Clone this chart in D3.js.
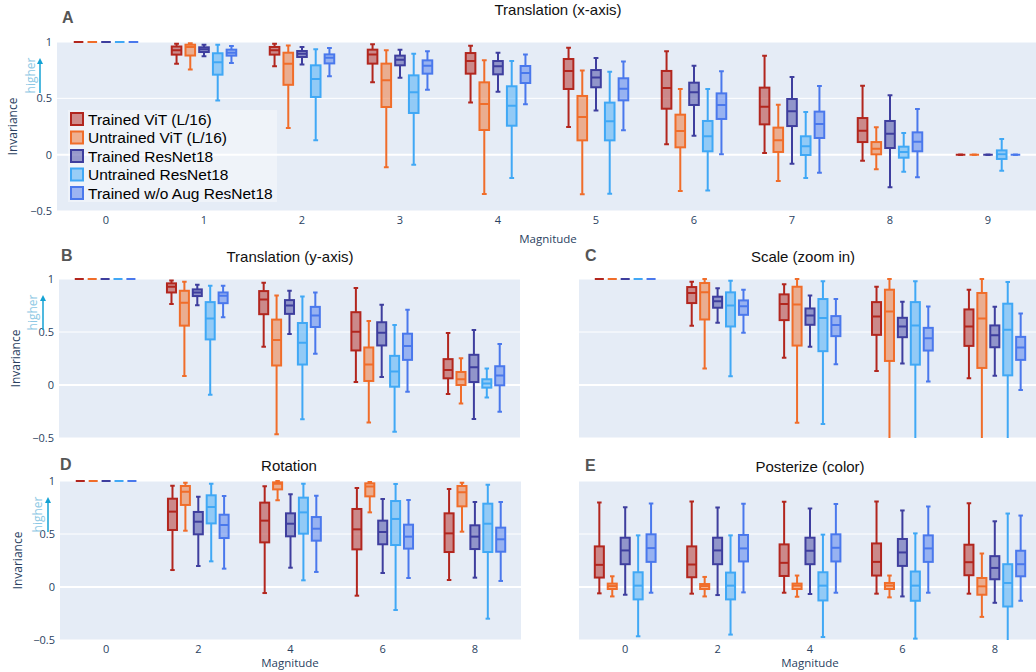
<!DOCTYPE html>
<html>
<head>
<meta charset="utf-8">
<script src="https://cdn.jsdelivr.net/npm/d3@7"></script>
<style>
  body { margin: 0; background: #fff; }
  svg { display: block; }
</style>
</head>
<body>
<div id="chart"></div>
<script>
const seriesNames = ['Trained ViT (L/16)', 'Untrained ViT (L/16)', 'Trained ResNet18', 'Untrained ResNet18', 'Trained w/o Aug ResNet18'];
const seriesColors = ['#B2261E', '#F06D2A', '#3E3E9E', '#40A8F5', '#4A78EC'];

const magsX = [0, 1, 2, 3, 4, 5, 6, 7, 8, 9];
const magsEven = [0, 2, 4, 6, 8];
const yTicks = [-0.5, 0, 0.5, 1];

// each box: [low whisker, q1, median, q3, high whisker]; one row per series
const one = [1, 1, 1, 1, 1];
const zero = [0, 0, 0, 0, 0];

const translationX = [
  [one, [0.808, 0.888, 0.926, 0.96, 0.985], [0.784, 0.888, 0.926, 0.956, 0.985], [0.642, 0.808, 0.888, 0.932, 0.979], [0.464, 0.719, 0.831, 0.902, 0.967], [0.246, 0.583, 0.743, 0.849, 0.95], [0.092, 0.408, 0.592, 0.743, 0.917], [0.015, 0.269, 0.426, 0.595, 0.879], [-0.053, 0.112, 0.213, 0.325, 0.612], zero],
  [one, [0.757, 0.88, 0.955, 0.976, 0.99], [0.237, 0.62, 0.808, 0.905, 0.97], [-0.112, 0.423, 0.66, 0.808, 0.926], [-0.349, 0.219, 0.45, 0.642, 0.837], [-0.352, 0.127, 0.334, 0.521, 0.746], [-0.322, 0.065, 0.21, 0.355, 0.583], [-0.234, 0.024, 0.127, 0.24, 0.444], [-0.13, 0.003, 0.053, 0.112, 0.243], zero],
  [one, [0.873, 0.911, 0.935, 0.953, 0.976], [0.8, 0.867, 0.896, 0.92, 0.956], [0.683, 0.793, 0.843, 0.879, 0.932], [0.559, 0.713, 0.784, 0.831, 0.905], [0.393, 0.598, 0.686, 0.751, 0.858], [0.169, 0.441, 0.553, 0.639, 0.79], [-0.08, 0.254, 0.385, 0.494, 0.689], [-0.29, 0.059, 0.186, 0.299, 0.527], zero],
  [one, [0.48, 0.71, 0.82, 0.9, 0.976], [0.127, 0.512, 0.672, 0.793, 0.935], [-0.089, 0.37, 0.553, 0.704, 0.896], [-0.207, 0.257, 0.435, 0.607, 0.831], [-0.346, 0.127, 0.296, 0.462, 0.737], [-0.317, 0.03, 0.163, 0.299, 0.583], [-0.207, -0.003, 0.074, 0.163, 0.379], [-0.151, -0.027, 0.024, 0.071, 0.192], [-0.142, -0.038, 0.003, 0.038, 0.139]],
  [one, [0.814, 0.879, 0.905, 0.932, 0.964], [0.695, 0.81, 0.861, 0.89, 0.947], [0.577, 0.719, 0.79, 0.837, 0.917], [0.447, 0.636, 0.725, 0.787, 0.89], [0.216, 0.482, 0.586, 0.678, 0.828], [0.003, 0.317, 0.441, 0.544, 0.74], [-0.16, 0.148, 0.272, 0.382, 0.609], [-0.201, 0.03, 0.115, 0.198, 0.405], zero]
];

const translationY = [
  [one, [0.763, 0.873, 0.927, 0.959, 0.987], [0.361, 0.668, 0.807, 0.886, 0.965], [0.028, 0.326, 0.503, 0.687, 0.915], [-0.085, 0.063, 0.142, 0.244, 0.491]],
  [one, [0.085, 0.56, 0.775, 0.889, 0.975], [-0.465, 0.184, 0.424, 0.617, 0.845], [-0.354, 0.038, 0.193, 0.354, 0.604], [-0.174, 0.0, 0.054, 0.123, 0.253]],
  [one, [0.753, 0.839, 0.873, 0.902, 0.946], [0.481, 0.671, 0.75, 0.801, 0.889], [0.076, 0.373, 0.494, 0.592, 0.756], [-0.32, 0.028, 0.168, 0.285, 0.519]],
  [one, [-0.092, 0.43, 0.627, 0.782, 0.937], [-0.323, 0.193, 0.399, 0.585, 0.835], [-0.44, -0.016, 0.127, 0.275, 0.566], [-0.117, -0.025, 0.013, 0.054, 0.155]],
  [one, [0.639, 0.772, 0.842, 0.873, 0.937], [0.294, 0.547, 0.655, 0.737, 0.873], [-0.063, 0.237, 0.367, 0.484, 0.709], [-0.253, -0.003, 0.089, 0.177, 0.386]]
];

const scaleZoom = [
  [one, [0.558, 0.773, 0.868, 0.924, 0.975], [0.256, 0.612, 0.763, 0.855, 0.95], [0.132, 0.473, 0.647, 0.782, 0.927], [0.063, 0.369, 0.552, 0.713, 0.899]],
  [one, [0.155, 0.618, 0.874, 0.962, 1.0], [-0.356, 0.372, 0.76, 0.927, 1.0], [-0.6, 0.227, 0.694, 0.899, 1.0], [-0.6, 0.161, 0.628, 0.868, 1.0]],
  [one, [0.587, 0.729, 0.789, 0.833, 0.912], [0.36, 0.568, 0.656, 0.722, 0.845], [0.202, 0.451, 0.552, 0.634, 0.785], [0.088, 0.356, 0.47, 0.562, 0.738]],
  [one, [0.082, 0.552, 0.751, 0.874, 0.984], [-0.369, 0.319, 0.631, 0.811, 0.978], [-0.6, 0.192, 0.562, 0.782, 0.978], [-0.6, 0.091, 0.521, 0.767, 0.972]],
  [one, [0.492, 0.662, 0.744, 0.798, 0.899], [0.196, 0.461, 0.565, 0.65, 0.811], [0.032, 0.325, 0.442, 0.539, 0.741], [-0.047, 0.237, 0.353, 0.454, 0.675]]
];

const rotation = [
  [one, [0.16, 0.538, 0.711, 0.833, 0.956], [-0.057, 0.421, 0.626, 0.796, 0.95], [-0.082, 0.355, 0.544, 0.736, 0.934], [0.066, 0.33, 0.506, 0.695, 0.925]],
  [one, [0.531, 0.774, 0.899, 0.953, 0.984], [0.818, 0.921, 0.975, 0.987, 1.0], [0.704, 0.855, 0.947, 0.978, 0.99], [0.522, 0.761, 0.893, 0.953, 0.984]],
  [one, [0.198, 0.497, 0.616, 0.708, 0.852], [0.182, 0.478, 0.597, 0.695, 0.874], [0.132, 0.403, 0.519, 0.626, 0.83], [0.088, 0.358, 0.475, 0.582, 0.802]],
  [one, [0.242, 0.6, 0.755, 0.865, 0.975], [0.063, 0.503, 0.704, 0.843, 0.975], [-0.217, 0.396, 0.642, 0.811, 0.972], [-0.299, 0.33, 0.597, 0.786, 0.965]],
  [one, [0.173, 0.462, 0.585, 0.682, 0.858], [0.142, 0.437, 0.55, 0.66, 0.862], [0.085, 0.362, 0.475, 0.588, 0.821], [0.057, 0.333, 0.45, 0.56, 0.802]]
];

const posterize = [
  [[-0.06, 0.089, 0.209, 0.383, 0.797], [-0.063, 0.092, 0.212, 0.383, 0.807], [-0.054, 0.104, 0.228, 0.402, 0.804], [-0.063, 0.108, 0.237, 0.411, 0.807], [-0.063, 0.111, 0.234, 0.399, 0.791]],
  [[-0.089, -0.019, 0.009, 0.032, 0.101], [-0.089, -0.019, 0.009, 0.028, 0.095], [-0.092, -0.019, 0.013, 0.032, 0.108], [-0.098, -0.019, 0.013, 0.038, 0.108], [-0.282, -0.073, 0.006, 0.085, 0.316]],
  [[-0.073, 0.215, 0.345, 0.465, 0.753], [-0.076, 0.215, 0.345, 0.465, 0.75], [-0.066, 0.215, 0.342, 0.465, 0.741], [-0.089, 0.199, 0.326, 0.453, 0.722], [-0.149, 0.073, 0.18, 0.291, 0.62]],
  [[-0.465, -0.117, 0.013, 0.139, 0.487], [-0.449, -0.117, 0.013, 0.136, 0.487], [-0.472, -0.127, 0.013, 0.139, 0.494], [-0.487, -0.13, 0.013, 0.146, 0.506], [-0.55, -0.184, 0.038, 0.215, 0.693]],
  [[-0.054, 0.237, 0.367, 0.497, 0.788], [-0.051, 0.241, 0.364, 0.491, 0.785], [-0.054, 0.241, 0.37, 0.497, 0.782], [-0.054, 0.237, 0.364, 0.487, 0.759], [-0.13, 0.101, 0.215, 0.342, 0.674]]
];

const width = 1036, height = 672;
const tickColor = '#2a3f5f';
const tickFont = '"Open Sans", "DejaVu Sans", sans-serif';
const titleFont = '"Liberation Sans", Arial, sans-serif';

const panels = [
  {id: 'A', title: 'Translation (x-axis)', titleX: 558, titleY: 15, letterX: 62, letterY: 23,
   data: translationX, mags: magsX, x0: 57, x1: 1037, y0: 42, y1: 211,
   yLabels: true, xLabels: true, xTitleX: 548, xTitleY: 243, yTitleX: 13, higher: {tx: 31, ax: 40}, legend: true},
  {id: 'B', title: 'Translation (y-axis)', titleX: 290, titleY: 262, letterX: 61, letterY: 261,
   data: translationY, mags: magsEven, x0: 59, x1: 520, y0: 279, y1: 438,
   yLabels: true, xLabels: false, yTitleX: 16, higher: {tx: 33, ax: 43}},
  {id: 'C', title: 'Scale (zoom in)', titleX: 803, titleY: 262, letterX: 585, letterY: 261,
   data: scaleZoom, mags: magsEven, x0: 579, x1: 1041, y0: 279, y1: 438,
   yLabels: false, xLabels: false},
  {id: 'D', title: 'Rotation', titleX: 289, titleY: 471, letterX: 60, letterY: 470,
   data: rotation, mags: magsEven, x0: 60, x1: 521, y0: 481, y1: 640,
   yLabels: true, xLabels: true, xTitleX: 290, xTitleY: 667, yTitleX: 18, higher: {tx: 38, ax: 48}},
  {id: 'E', title: 'Posterize (color)', titleX: 810, titleY: 472, letterX: 585, letterY: 471,
   data: posterize, mags: magsEven, x0: 579, x1: 1041, y0: 481, y1: 640,
   yLabels: false, xLabels: true, xTitleX: 810, xTitleY: 667}
];

const svg = d3.select('#chart').append('svg')
  .attr('width', width)
  .attr('height', height);

const defs = svg.append('defs');
defs.append('marker')
  .attr('id', 'arrowhead')
  .attr('viewBox', '0 0 10 10')
  .attr('refX', 5).attr('refY', 5)
  .attr('markerWidth', 4).attr('markerHeight', 4)
  .attr('orient', 'auto-start-reverse')
  .append('path')
  .attr('d', 'M0,0L10,5L0,10Z')
  .attr('fill', '#14a2d4');

panels.forEach(p => {
  const x = d3.scaleBand().domain(p.mags).range([p.x0, p.x1]);
  const y = d3.scaleLinear().domain([-0.5, 1]).range([p.y1, p.y0]);
  const bw = x.bandwidth();
  const inner = d3.scaleBand().domain(d3.range(seriesNames.length))
    .range([bw * 0.15, bw * 0.85]).paddingInner(0.3).paddingOuter(0.15);
  const boxW = inner.bandwidth();

  const clipW = Math.min(p.x1, width) - p.x0;
  defs.append('clipPath').attr('id', 'clip' + p.id)
    .append('rect').attr('x', p.x0).attr('y', p.y0 - 1.5).attr('width', clipW).attr('height', p.y1 - p.y0 + 1.5);

  svg.append('rect')
    .attr('x', p.x0).attr('y', p.y0)
    .attr('width', clipW).attr('height', p.y1 - p.y0)
    .attr('fill', '#E5ECF6');

  // grid
  svg.append('g').selectAll('line')
    .data(yTicks)
    .enter().append('line')
    .attr('x1', p.x0).attr('x2', p.x0 + clipW)
    .attr('y1', d => y(d)).attr('y2', d => y(d))
    .attr('stroke', '#fff')
    .attr('stroke-width', d => d === 0 ? 2 : 1);

  if (p.yLabels) {
    const ya = svg.append('g')
      .attr('transform', `translate(${p.x0 - 2},0)`)
      .call(d3.axisLeft(y).tickValues(yTicks).tickSize(0)
        .tickFormat(d => String(d).replace('-', '\u2212')));
    ya.select('.domain').remove();
    ya.selectAll('text').attr('fill', tickColor).style('font-family', tickFont).style('font-size', '11px');

    svg.append('text')
      .attr('transform', `translate(${p.yTitleX},${(p.y0 + p.y1) / 2}) rotate(-90)`)
      .attr('text-anchor', 'middle')
      .attr('dy', '0.35em')
      .attr('fill', tickColor)
      .style('font-family', tickFont)
      .style('font-size', '12px')
      .text('Invariance');

    const yh0 = p.y0 + 16, yh1 = p.y0 + 51;
    svg.append('line')
      .attr('x1', p.higher.ax).attr('x2', p.higher.ax)
      .attr('y1', yh1).attr('y2', yh0 + 3)
      .attr('stroke', '#14a2d4').attr('stroke-width', 1.5)
      .attr('marker-end', 'url(#arrowhead)');
    svg.append('text')
      .attr('transform', `translate(${p.higher.tx},${(yh0 + yh1) / 2}) rotate(-90)`)
      .attr('text-anchor', 'middle')
      .attr('dy', '0.35em')
      .attr('fill', '#8cc8e4')
      .style('font-family', tickFont)
      .style('font-size', '12px')
      .text('higher');
  }

  if (p.xLabels) {
    const xa = svg.append('g')
      .attr('transform', `translate(0,${p.y1 + 2})`)
      .call(d3.axisBottom(x).tickSize(0));
    xa.select('.domain').remove();
    xa.selectAll('text').attr('fill', tickColor).style('font-family', tickFont).style('font-size', '11px');

    svg.append('text')
      .attr('x', p.xTitleX)
      .attr('y', p.xTitleY)
      .attr('text-anchor', 'middle')
      .attr('fill', tickColor)
      .style('font-family', tickFont)
      .style('font-size', '11.5px')
      .text('Magnitude');
  }

  // boxes
  const plot = svg.append('g').attr('clip-path', `url(#clip${p.id})`);
  p.data.forEach((rows, si) => {
    const color = seriesColors[si];
    const g = plot.append('g');
    const boxes = g.selectAll('g.box')
      .data(rows.map((v, i) => ({mag: p.mags[i], v})))
      .enter().append('g')
      .attr('class', 'box')
      .attr('transform', d => `translate(${x(d.mag) + inner(si) + boxW / 2},0)`);

    boxes.append('line')
      .attr('y1', d => y(d.v[0])).attr('y2', d => y(d.v[1]))
      .attr('stroke', color).attr('stroke-width', 2);
    boxes.append('line')
      .attr('y1', d => y(d.v[3])).attr('y2', d => y(d.v[4]))
      .attr('stroke', color).attr('stroke-width', 2);
    [0, 4].forEach(k => {
      boxes.append('line')
        .attr('x1', -boxW / 4).attr('x2', boxW / 4)
        .attr('y1', d => y(d.v[k])).attr('y2', d => y(d.v[k]))
        .attr('stroke', color).attr('stroke-width', 2);
    });
    boxes.append('rect')
      .attr('x', -boxW / 2)
      .attr('width', boxW)
      .attr('y', d => y(d.v[3]))
      .attr('height', d => y(d.v[1]) - y(d.v[3]))
      .attr('fill', color).attr('fill-opacity', 0.5)
      .attr('stroke', color).attr('stroke-width', 2);
    boxes.append('line')
      .attr('x1', -boxW / 2).attr('x2', boxW / 2)
      .attr('y1', d => y(d.v[2])).attr('y2', d => y(d.v[2]))
      .attr('stroke', color).attr('stroke-width', 2);
  });

  svg.append('text')
    .attr('x', p.titleX).attr('y', p.titleY)
    .attr('text-anchor', 'middle')
    .attr('fill', '#111')
    .style('font-family', titleFont)
    .style('font-size', '15px')
    .text(p.title);

  svg.append('text')
    .attr('x', p.letterX).attr('y', p.letterY)
    .attr('fill', '#555')
    .style('font-family', titleFont)
    .style('font-size', '16px')
    .style('font-weight', 'bold')
    .text(p.id);

  if (p.legend) {
    const lg = svg.append('g').attr('transform', 'translate(68,110)');
    lg.append('rect')
      .attr('width', 209).attr('height', 92)
      .attr('fill', '#fff').attr('fill-opacity', 0.4);
    const items = lg.selectAll('g.item')
      .data(seriesNames)
      .enter().append('g')
      .attr('class', 'item')
      .attr('transform', (d, i) => `translate(0,${9 + i * 18.5})`);
    items.append('rect')
      .attr('x', 3).attr('y', -6)
      .attr('width', 12).attr('height', 12)
      .attr('fill', (d, i) => seriesColors[i]).attr('fill-opacity', 0.5)
      .attr('stroke', (d, i) => seriesColors[i]).attr('stroke-width', 2);
    items.append('text')
      .attr('x', 20)
      .attr('dy', '0.36em')
      .attr('fill', '#000')
      .style('font-family', titleFont)
      .style('font-size', '15.5px')
      .text(d => d);
  }
});
</script>
</body>
</html>
